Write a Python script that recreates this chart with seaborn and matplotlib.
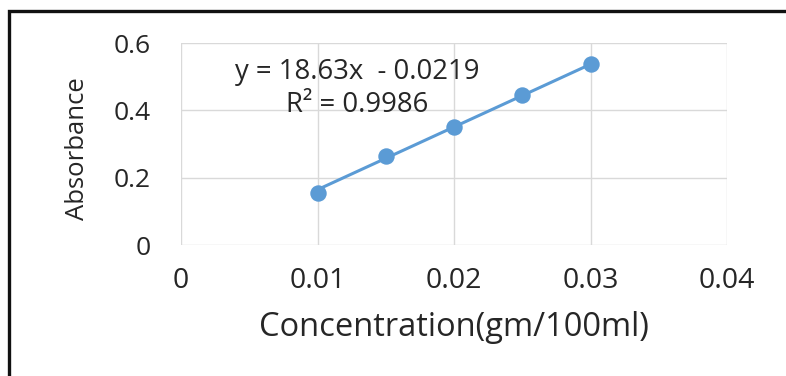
import matplotlib
matplotlib.use("Agg")
import matplotlib.pyplot as plt
import seaborn as sns
import pandas as pd
from matplotlib.patches import Rectangle

# Calibration data
concentration = [0.010, 0.015, 0.020, 0.025, 0.030]
absorbance = [0.155, 0.265, 0.350, 0.445, 0.537]
slope = 18.63
intercept = -0.0219
r_squared = 0.9986
x_ticks = [0, 0.01, 0.02, 0.03, 0.04]
x_tick_labels = ["0", "0.01", "0.02", "0.03", "0.04"]
y_ticks = [0, 0.2, 0.4, 0.6]
y_tick_labels = ["0", "0.2", "0.4", "0.6"]

sns.set_theme(style="white")
plt.rcParams["font.family"] = ["Open Sans", "DejaVu Sans"]

df = pd.DataFrame({"conc": concentration, "abs": absorbance})
trend = pd.DataFrame({"conc": [concentration[0], concentration[-1]]})
trend["abs"] = slope * trend["conc"] + intercept

fig = plt.figure(figsize=(7.86, 3.76), dpi=100)
ax = fig.add_axes([0.2303, 0.3484, 0.925 - 0.2303, 0.8856 - 0.3484])

blue = "#5B9BD5"
text_color = "#262626"
sns.lineplot(data=trend, x="conc", y="abs", ax=ax, color=blue, linewidth=2.2, zorder=2)
sns.scatterplot(data=df, x="conc", y="abs", ax=ax, color=blue, s=140,
                edgecolor=blue, linewidth=0, zorder=3)

ax.set_xlim(0, 0.04)
ax.set_ylim(0, 0.6)
ax.set_xticks(x_ticks)
ax.set_xticklabels(x_tick_labels)
ax.set_yticks(y_ticks)
ax.set_yticklabels(y_tick_labels)
ax.grid(True, color="#D9D9D9", linewidth=1.0)
for s in ax.spines.values():
    s.set_visible(False)
ax.tick_params(axis="x", length=0, labelsize=20.5, colors=text_color, pad=16)
ax.tick_params(axis="y", length=0, labelsize=19, colors=text_color, pad=22)

ax.set_xlabel("Concentration(gm/100ml)", fontsize=23.5, color=text_color, va="center")
ax.xaxis.set_label_coords(0.5, -0.406)
ax.set_ylabel("Absorbance", fontsize=18.5, color=text_color, va="center")
ax.yaxis.set_label_coords(-0.19, 0.475)

ax.text(0.0129, 0.514, f"y = {slope}x  - {abs(intercept)}", ha="center", va="center",
        fontsize=19.8, color=text_color)
ax.text(0.0129, 0.416, f"R\u00b2 = {r_squared}", ha="center", va="center",
        fontsize=19.8, color=text_color)

# Chart-area frame
fig.patches.append(Rectangle((8.5 / 786, -0.2), 1.5, 1 - 11 / 376 + 0.2,
                             transform=fig.transFigure, fill=False,
                             edgecolor="#111111", linewidth=2.4))

fig.savefig("out.png", dpi=100, facecolor="white")
